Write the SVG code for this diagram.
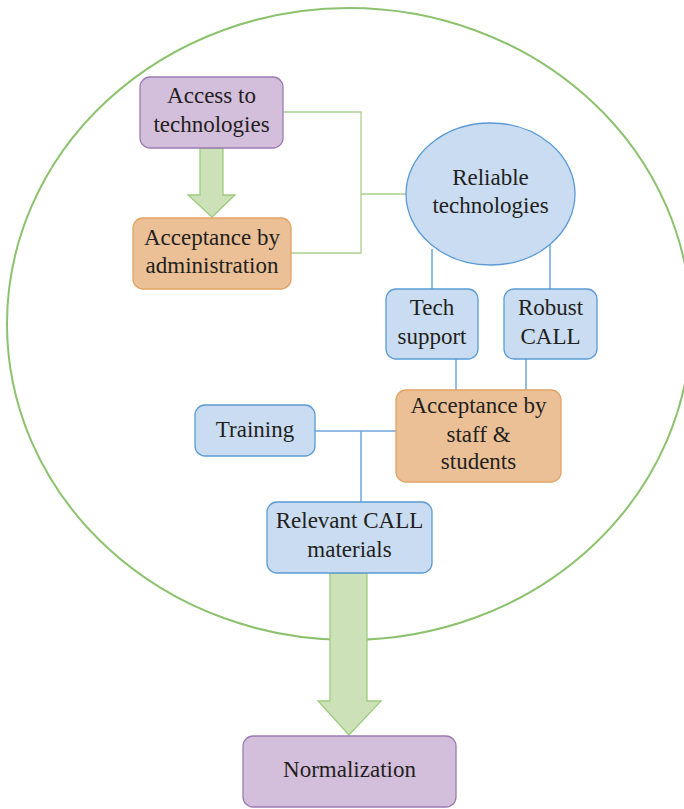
<svg xmlns="http://www.w3.org/2000/svg" width="684" height="809" viewBox="0 0 684 809">
<style>
text{font-family:"Liberation Serif","DejaVu Serif",serif;font-size:23px;fill:#231f20;text-anchor:middle}
.purple{fill:#d3bedb;stroke:#9c7cb4;stroke-width:1.3}
.orange{fill:#ebc096;stroke:#e3a263;stroke-width:1.3}
.blue{fill:#c9dcf1;stroke:#5b9bd5;stroke-width:1.3}
.gline{fill:none;stroke:#a9d18e;stroke-width:1.3}
.bline{fill:none;stroke:#6fa6dc;stroke-width:1.5}
.arrow{fill:#cde1b8;stroke:#9ccc7e;stroke-width:1.3}
</style>
<rect width="684" height="809" fill="#ffffff"/>
<ellipse id="boundary" cx="349" cy="324" rx="342" ry="316" fill="none" stroke="#8cc26e" stroke-width="2"/>
<g id="connectors">
<polyline class="gline" points="283,112 361,112 361,253 291,253"/>
<line class="gline" x1="361" y1="194" x2="406" y2="194"/>
<line class="bline" x1="432" y1="249" x2="432" y2="289"/>
<line class="bline" x1="550" y1="243" x2="550" y2="289"/>
<line class="bline" x1="456" y1="359" x2="456" y2="390"/>
<line class="bline" x1="526" y1="359" x2="526" y2="390"/>
<line class="bline" x1="315" y1="431" x2="396" y2="431"/>
<line class="bline" x1="361" y1="431" x2="361" y2="502"/>
<polygon class="arrow" points="200,148 223,148 223,195 235,195 212,217 188,195 200,195"/>
<polygon class="arrow" points="330,573 367,573 367,701 381,701 349,735 318,701 330,701"/>
</g>
<g id="access">
<rect class="purple" x="140" y="77" width="143" height="71" rx="10"/>
<text x="211.5" y="103">Access to</text>
<text x="211.5" y="132">technologies</text>
</g>
<g id="accept-admin">
<rect class="orange" x="133" y="218" width="158" height="71" rx="10"/>
<text x="212" y="245">Acceptance by</text>
<text x="212" y="273">administration</text>
</g>
<g id="reliable">
<ellipse class="blue" cx="490.5" cy="194" rx="84.5" ry="71"/>
<text x="490.5" y="185">Reliable</text>
<text x="490.5" y="213">technologies</text>
</g>
<g id="tech-support">
<rect class="blue" x="386" y="289" width="92" height="70" rx="10"/>
<text x="432" y="315">Tech</text>
<text x="432" y="344">support</text>
</g>
<g id="robust-call">
<rect class="blue" x="504" y="289" width="93" height="70" rx="10"/>
<text x="550.5" y="315">Robust</text>
<text x="550.5" y="344">CALL</text>
</g>
<g id="accept-staff">
<rect class="orange" x="396" y="390" width="165" height="92" rx="10"/>
<text x="478.5" y="413">Acceptance by</text>
<text x="478.5" y="442">staff &amp;</text>
<text x="478.5" y="469">students</text>
</g>
<g id="training">
<rect class="blue" x="195" y="405" width="120" height="51" rx="10"/>
<text x="255" y="437">Training</text>
</g>
<g id="relevant">
<rect class="blue" x="267" y="502" width="165" height="71" rx="10"/>
<text x="349.5" y="528">Relevant CALL</text>
<text x="349.5" y="557">materials</text>
</g>
<g id="normalization">
<rect class="purple" x="243" y="736" width="213" height="71" rx="10"/>
<text x="349.5" y="777">Normalization</text>
</g>
</svg>
